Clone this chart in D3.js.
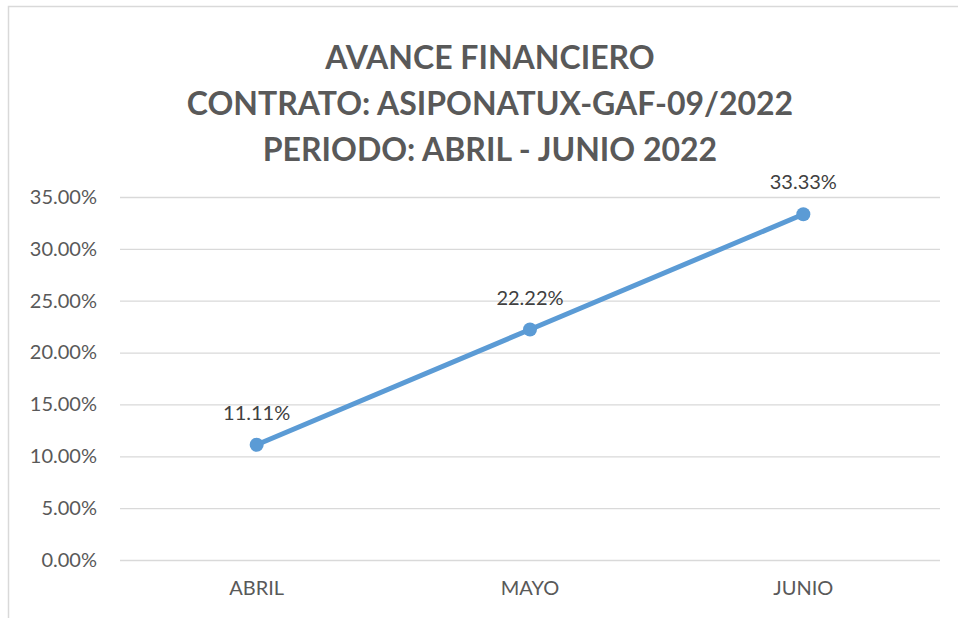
<!DOCTYPE html>
<html><head><meta charset="utf-8">
<script src="https://cdn.jsdelivr.net/npm/d3@7"></script>
<style>body{margin:0;background:#fff}svg{display:block}</style>
</head><body>
<script>
const categories = ["ABRIL", "MAYO", "JUNIO"];
const values = [0.1111, 0.2222, 0.3333];
const valueLabels = ["11.11%", "22.22%", "33.33%"];
const yTicks = [0, 0.05, 0.10, 0.15, 0.20, 0.25, 0.30, 0.35];
const titleLines = ["AVANCE FINANCIERO", "CONTRATO: ASIPONATUX-GAF-09/2022", "PERIODO: ABRIL - JUNIO 2022"];

const W = 958, H = 618;
const svg = d3.select("body").append("svg").attr("width", W).attr("height", H);
svg.append("rect").attr("x", 8.5).attr("y", 6.5).attr("width", W + 10).attr("height", H + 10)
  .attr("fill", "#fff").attr("stroke", "#d9d9d9").attr("stroke-width", 1.5);

const font = "Lato, 'Open Sans', sans-serif";
const m = {left: 120, right: 940, top: 197, bottom: 560};
const x = d3.scaleBand().domain(categories).range([m.left, m.right]);
const y = d3.scaleLinear().domain([0, 0.35]).range([m.bottom, m.top]);

const t = svg.append("g");
titleLines.forEach((s, i) => {
  t.append("text").attr("x", 490).attr("y", 69 + i * 46).attr("text-anchor", "middle")
    .attr("font-family", font).attr("font-weight", "bold").attr("font-size", 32)
    .attr("fill", "#595959").text(s);
});

const yAxis = d3.axisLeft(y).tickValues(yTicks).tickSize(-(m.right - m.left)).tickFormat(d3.format(".2%"));
const gy = svg.append("g").attr("transform", `translate(${m.left},0)`).call(yAxis);
gy.select(".domain").remove();
gy.selectAll(".tick line").attr("stroke", "#d9d9d9").attr("stroke-width", 1.3);
gy.selectAll(".tick text").attr("x", -23).attr("font-family", font).attr("font-size", 20).attr("fill", "#595959");

const xAxis = d3.axisBottom(x).tickSize(0);
const gx = svg.append("g").attr("transform", `translate(0,${m.bottom})`).call(xAxis);
gx.select(".domain").remove();
gx.selectAll(".tick text").attr("y", 21).attr("dy", "0.71em").attr("font-family", font).attr("font-size", 20).attr("fill", "#595959");

const line = d3.line().x((d, i) => x(categories[i]) + x.bandwidth() / 2).y(d => y(d));
svg.append("path").datum(values).attr("d", line).attr("fill", "none")
  .attr("stroke", "#5b9bd5").attr("stroke-width", 5).attr("stroke-linecap", "round");
svg.selectAll("circle.pt").data(values).join("circle").attr("class", "pt")
  .attr("cx", (d, i) => x(categories[i]) + x.bandwidth() / 2).attr("cy", d => y(d)).attr("r", 7)
  .attr("fill", "#5b9bd5");
svg.selectAll("text.lbl").data(values).join("text").attr("class", "lbl")
  .attr("x", (d, i) => x(categories[i]) + x.bandwidth() / 2).attr("y", d => y(d) - 25)
  .attr("text-anchor", "middle").attr("font-family", font).attr("font-size", 20).attr("fill", "#404040")
  .text((d, i) => valueLabels[i]);
</script>
</body></html>
